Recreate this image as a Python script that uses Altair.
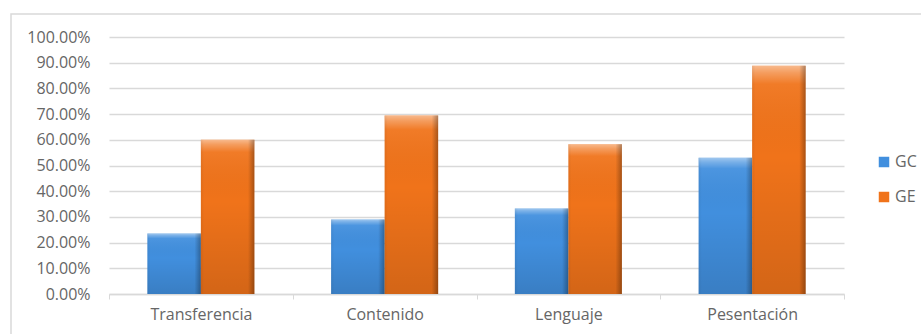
import altair as alt
import pandas as pd

# Share of students per aspect, control group (GC) vs experimental group (GE)
categories = ["Transferencia", "Contenido", "Lenguaje", "Pesentación"]
groups = ["GC", "GE"]
gc_values = [0.235, 0.290, 0.333, 0.530]
ge_values = [0.600, 0.695, 0.583, 0.888]
group_colors = ["#418fde", "#f0731a"]
y_ticks = [0, 0.1, 0.2, 0.3, 0.4, 0.5, 0.6, 0.7, 0.8, 0.9, 1.0]

rows = []
for cat, gc, ge in zip(categories, gc_values, ge_values):
    rows.append({"aspecto": cat, "grupo": "GC", "valor": gc})
    rows.append({"aspecto": cat, "grupo": "GE", "valor": ge})
df = pd.DataFrame(rows)

FONT = "Open Sans"
TEXT = "#666666"
GRID = "#d9d9d9"
FS = 16

x_enc = alt.X(
    "aspecto:N",
    sort=categories,
    scale=alt.Scale(paddingInner=0, paddingOuter=0),
    axis=alt.Axis(
        title=None, labelAngle=0, labelFont=FONT, labelFontSize=FS,
        labelColor=TEXT, labelPadding=7, tickBand="extent", ticks=True,
        tickSize=5, tickColor=GRID, domainColor=GRID, domainWidth=1.5,
        grid=False,
    ),
)
xo_enc = alt.XOffset(
    "grupo:N", sort=groups,
    scale=alt.Scale(paddingInner=0, paddingOuter=0.717),
)
y_enc = alt.Y(
    "valor:Q",
    scale=alt.Scale(domain=[0, 1]),
    axis=alt.Axis(
        title=None, format=".2%", values=y_ticks, domain=False, ticks=False,
        gridColor=GRID, gridWidth=1.5, labelFont=FONT, labelFontSize=FS,
        labelColor=TEXT, labelPadding=19,
    ),
)

base = alt.Chart(df)

bars = base.mark_bar(stroke=None).encode(
    x=x_enc,
    xOffset=xo_enc,
    y=y_enc,
    color=alt.Color(
        "grupo:N",
        sort=groups,
        scale=alt.Scale(domain=groups, range=group_colors),
        legend=alt.Legend(
            title=None, orient="none", legendX=767, legendY=117,
            symbolType="square", symbolSize=110, symbolStrokeWidth=0,
            labelFont=FONT, labelFontSize=FS, labelColor=TEXT,
            rowPadding=19, padding=0, labelOffset=3,
        ),
    ),
)

# Soft bevel: light top edge fading to a darker base
shade_v = base.mark_bar(
    fill=alt.Gradient(
        gradient="linear", x1=0, x2=0, y1=0, y2=1,
        stops=[
            alt.GradientStop(color="rgba(255,255,255,0.5)", offset=0),
            alt.GradientStop(color="rgba(255,255,255,0.3)", offset=0.03),
            alt.GradientStop(color="rgba(255,255,255,0.06)", offset=0.08),
            alt.GradientStop(color="rgba(0,0,0,0)", offset=0.4),
            alt.GradientStop(color="rgba(0,0,0,0.12)", offset=1),
        ],
    ),
).encode(x=x_enc, xOffset=xo_enc, y=y_enc)

# Darker right-hand edge
shade_h = base.mark_bar(
    fill=alt.Gradient(
        gradient="linear", x1=0, x2=1, y1=0, y2=0,
        stops=[
            alt.GradientStop(color="rgba(0,0,0,0.06)", offset=0),
            alt.GradientStop(color="rgba(0,0,0,0)", offset=0.06),
            alt.GradientStop(color="rgba(0,0,0,0)", offset=0.88),
            alt.GradientStop(color="rgba(0,0,0,0.3)", offset=1),
        ],
    ),
).encode(x=x_enc, xOffset=xo_enc, y=y_enc)

frame = alt.Chart(pd.DataFrame({"k": [0]})).mark_rect(
    fillOpacity=0, stroke=GRID, strokeWidth=1.5
).encode(
    x=alt.value(-98), x2=alt.value(830), y=alt.value(-23), y2=alt.value(320)
)

chart = alt.layer(frame, bars, shade_v, shade_h).properties(
    width=735,
    height=257,
    autosize=alt.AutoSizeParams(type="none"),
    padding={"left": 109, "top": 37, "right": 77, "bottom": 40},
    background="white",
).configure_view(stroke=None)

chart.save("out.html", embed_options={"renderer": "svg", "actions": False})
